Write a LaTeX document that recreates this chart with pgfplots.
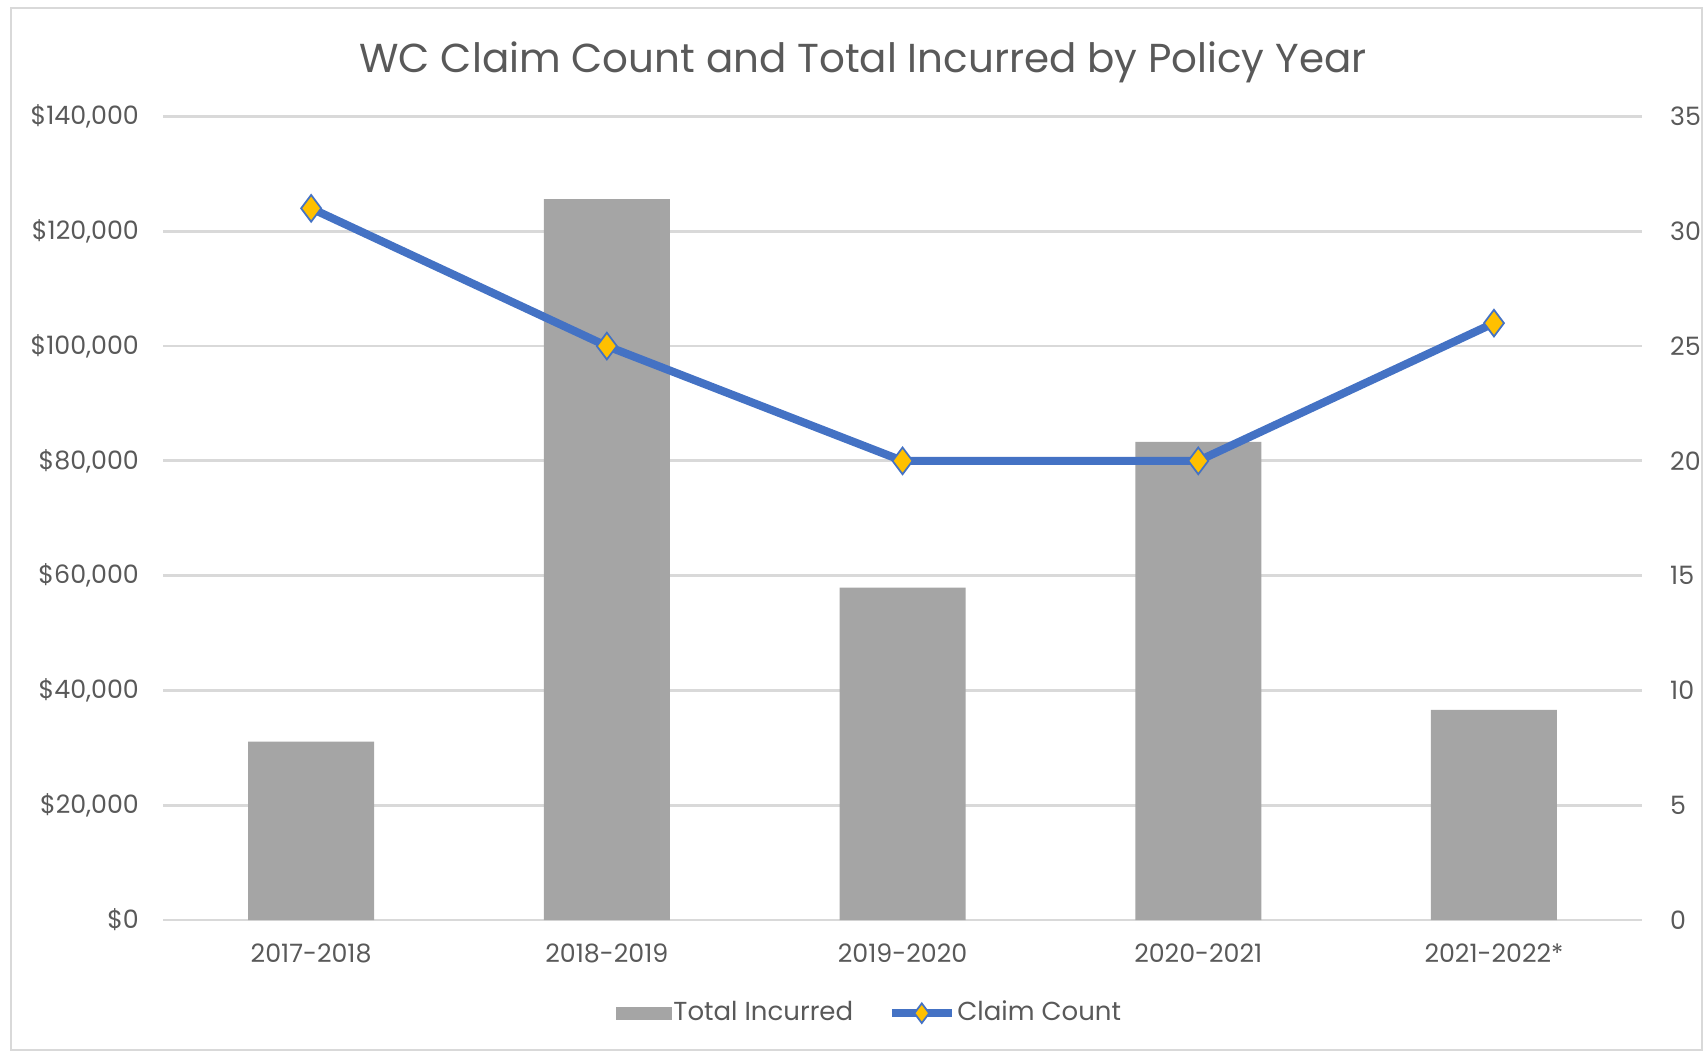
\documentclass[border=0pt]{standalone}
\usepackage{fontspec}
\setmainfont{Poppins}
\usepackage{pgfplots}
\pgfplotsset{compat=1.18}
\definecolor{txtgray}{HTML}{595959}
\definecolor{gridgray}{HTML}{D9D9D9}
\definecolor{bargray}{HTML}{A5A5A5}
\definecolor{lineblue}{HTML}{4472C4}
\definecolor{markyellow}{HTML}{FFC000}

\begin{document}
\begin{tikzpicture}
\useasboundingbox (0,0) rectangle (17.07,10.53);
\draw[gridgray, line width=0.8pt] (0.11,0.03) rectangle (17.02,10.45);
\node[txtgray, font=\fontsize{11.5}{13}\selectfont] at (8.63,9.91) {WC Claim Count and Total Incurred by Policy Year};

\pgfplotsset{
  common/.style={
    at={(1.633cm,1.33cm)}, anchor=south west,
    scale only axis, width=14.785cm, height=8.035cm,
    xmin=-0.5, xmax=4.5,
    ymin=0,
    major tick length=0pt,
    tick label style={font=\fontsize{7.2}{8}\selectfont, text=txtgray},
    /pgf/number format/assume math mode=true,
  }
}

\begin{axis}[common,
    ymax=140000, ytick={0,20000,40000,60000,80000,100000,120000,140000},
    yticklabels={{\$0},{\$20,000},{\$40,000},{\$60,000},{\$80,000},{\$100,000},{\$120,000},{\$140,000}},
    axis x line*=bottom, axis y line*=left,
    y axis line style={draw=none},
    x axis line style={draw=gridgray, line width=0.8pt},
    ymajorgrids, grid style={gridgray, line width=0.8pt},
    scaled y ticks=false,
    yticklabel style={xshift=-0.12cm},
    xtick={0,1,2,3,4},
    xticklabels={2017-2018,2018-2019,2019-2020,2020-2021,2021-2022*},
    xticklabel style={yshift=-0.11cm},
    legend style={at={(0.4775,-0.116)}, anchor=center, draw=none, fill=none,
      font=\fontsize{7.4}{9}\selectfont, text=txtgray, legend columns=2,
      nodes={inner xsep=0.5pt},
      /tikz/every even column/.append style={column sep=0.33cm},
      inner sep=0pt},
    legend cell align=left,
]
\addplot[ybar, bar width=1.26cm, fill=bargray, draw=none,
  legend image code/.code={\fill[bargray] (0cm,-0.065cm) rectangle (0.56cm,0.065cm);}]
  coordinates {(0,31100) (1,125600) (2,57900) (3,83300) (4,36600)};
\addlegendentry{Total Incurred}
\addlegendimage{lineblue, line width=2.2pt, mark=diamond*, mark size=2.8pt,
  mark options={fill=markyellow, draw=lineblue, line width=0.5pt}}
\addlegendentry{Claim Count}
\end{axis}

\begin{axis}[common,
    ymax=35, ytick={0,5,...,35},
    axis x line=none, axis y line*=right,
    y axis line style={draw=none},
    yticklabel style={xshift=0.16cm},
]
\addplot[lineblue, line width=2.3pt, mark=diamond*, mark size=3.8pt,
  mark options={fill=markyellow, draw=lineblue, line width=0.5pt}]
  coordinates {(0,31) (1,25) (2,20) (3,20) (4,26)};
\end{axis}
\end{tikzpicture}
\end{document}
